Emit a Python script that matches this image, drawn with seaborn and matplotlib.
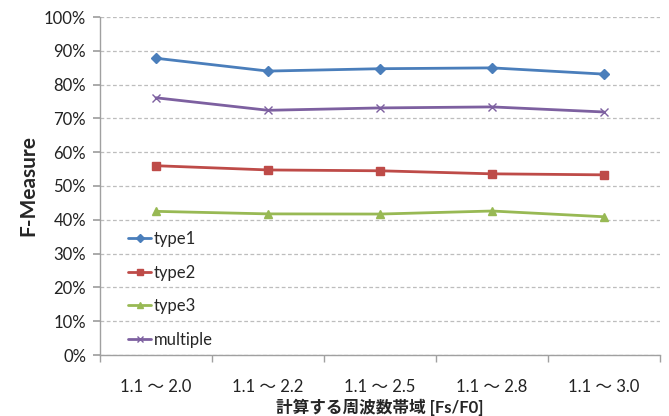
import matplotlib
matplotlib.use("Agg")
import matplotlib.pyplot as plt
import seaborn as sns
import pandas as pd
from matplotlib.ticker import FixedLocator, PercentFormatter

categories = ["1.1 〜 2.0", "1.1 〜 2.2", "1.1 〜 2.5", "1.1 〜 2.8", "1.1 〜 3.0"]
type1 = [87.8, 84.0, 84.7, 84.95, 83.1]
type2 = [56.0, 54.75, 54.5, 53.6, 53.3]
type3 = [42.5, 41.75, 41.7, 42.6, 40.9]
multiple = [76.1, 72.4, 73.1, 73.4, 71.9]
series_names = ["type1", "type2", "type3", "multiple"]

rows = []
for name, vals in zip(series_names, [type1, type2, type3, multiple]):
    for i, (c, v) in enumerate(zip(categories, vals)):
        rows.append({"pos": i, "cat": c, "value": v, "series": name})
df = pd.DataFrame(rows)

sns.set_theme(style="white")
plt.rcParams['font.family'] = ['Lato', 'Noto Sans CJK JP', 'DejaVu Sans']

colors = {"type1": "#4A7EBB", "type2": "#BE4B48", "type3": "#98B954", "multiple": "#7D60A0"}
markers = {"type1": "D", "type2": "s", "type3": "^", "multiple": "x"}
msizes = {"type1": 5, "type2": 6, "type3": 6, "multiple": 6}

fig = plt.figure(figsize=(6.69, 4.16), dpi=100)
ax = fig.add_axes([100/669, 1-355/416, 560/669, (355-17)/416])

for name in series_names:
    sub = df[df["series"] == name]
    sns.lineplot(data=sub, x="pos", y="value", ax=ax, color=colors[name],
                 marker=markers[name], markersize=msizes[name], linewidth=2.0,
                 markeredgecolor=colors[name], markeredgewidth=1.0, label=name)

ax.set_xlim(-0.5, 4.5)
ax.set_ylim(0, 100)
ax.yaxis.set_major_locator(FixedLocator(range(0, 101, 10)))
ax.yaxis.set_major_formatter(PercentFormatter(decimals=0))
ax.set_xticks(range(len(categories)))
ax.set_xticklabels(categories, fontsize=12, color="#222222")
ax.xaxis.set_minor_locator(FixedLocator([-0.5, 0.5, 1.5, 2.5, 3.5, 4.5]))
ax.tick_params(axis="x", which="major", length=0, pad=17)
ax.tick_params(axis="x", which="minor", length=5, color="#A0A0A0", direction="out", bottom=True)
ax.tick_params(axis="y", which="major", length=5, color="#A0A0A0", direction="out", left=True,
               labelsize=12, labelcolor="#222222", pad=5)

ax.grid(axis="y", linestyle=(0, (3, 2)), color="#BDBDBD", linewidth=0.9)
ax.set_axisbelow(True)
for s in ["top", "right"]:
    ax.spines[s].set_visible(False)
for s in ["left", "bottom"]:
    ax.spines[s].set_color("#A0A0A0")
    ax.spines[s].set_linewidth(1.0)

ax.set_xlabel("計算する周波数帯域 [Fs/F0]", fontsize=12, fontweight="bold", labelpad=3)
ax.set_ylabel("F-Measure", fontsize=15, fontweight="bold", labelpad=4)

leg = ax.legend(loc="upper left", bbox_to_anchor=(113/669, 1-216/416),
                bbox_transform=fig.transFigure, frameon=False, fontsize=12,
                labelspacing=1.05, handlelength=1.4, handletextpad=0.15, markerscale=0.8)

fig.savefig("out.png", dpi=100)
